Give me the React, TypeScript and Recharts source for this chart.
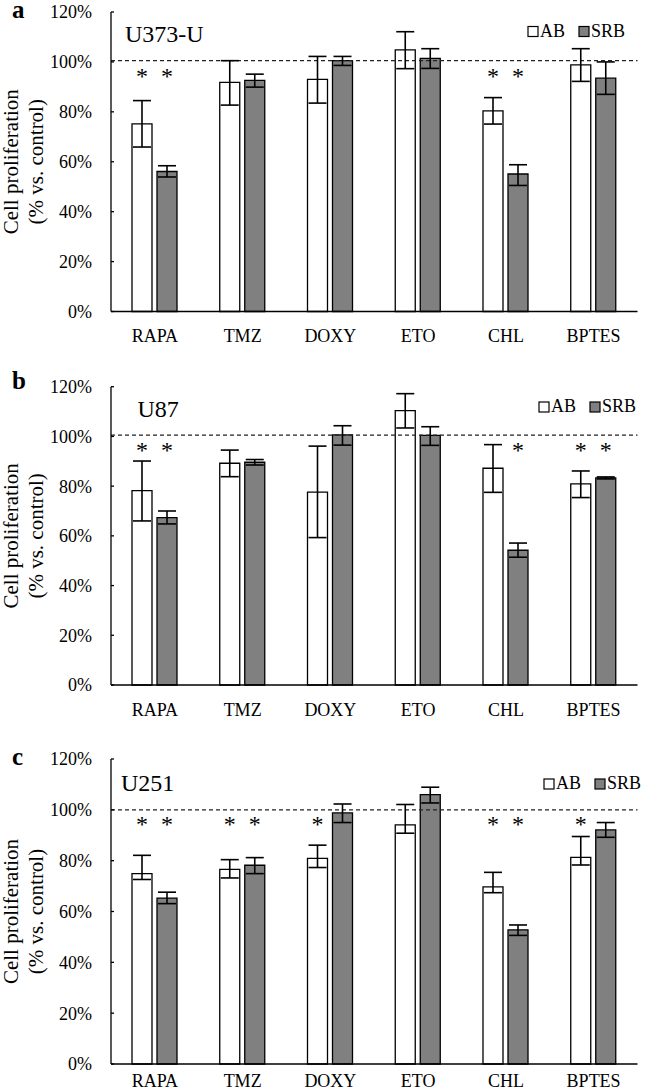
import React from 'react';
import { BarChart, Bar, XAxis, YAxis, ErrorBar, ReferenceLine, LabelList } from 'recharts';

const FONT = '"Liberation Serif", "Times New Roman", serif';

const drugs = ['RAPA', 'TMZ', 'DOXY', 'ETO', 'CHL', 'BPTES'];
const yTicks = [0, 20, 40, 60, 80, 100, 120];

// a: U373-U  (error = [minus, plus])
const u373AB = [75.2, 91.8, 93.0, 104.8, 80.4, 98.8];
const u373ABErr = [[9.3, 9.3], [9.1, 8.7], [9.5, 9.2], [7.5, 7.3], [5.3, 5.3], [6.6, 6.5]];
const u373SRB = [56.1, 92.6, 100.5, 101.4, 55.1, 93.5];
const u373SRBErr = [[2.2, 2.3], [2.7, 2.5], [1.9, 1.7], [4.0, 3.9], [4.6, 3.7], [6.5, 6.5]];
const u373StarAB = [true, false, false, false, true, false];
const u373StarSRB = [true, false, false, false, true, false];

// b: U87
const u87AB = [78.2, 89.2, 77.6, 110.4, 87.2, 80.9];
const u87ABErr = [[12.2, 11.9], [5.4, 5.3], [18.3, 18.5], [7.0, 6.8], [9.7, 9.5], [5.5, 5.2]];
const u87SRB = [67.3, 89.6, 100.6, 100.4, 54.2, 83.3];
const u87SRBErr = [[2.5, 2.7], [1.1, 1.1], [4.1, 3.7], [4.0, 3.5], [2.8, 2.9], [0.4, 0.4]];
const u87StarAB = [true, false, false, false, false, true];
const u87StarSRB = [true, false, false, false, true, true];

// c: U251
const u251AB = [74.9, 76.6, 80.9, 94.1, 69.7, 81.3];
const u251ABErr = [[2.3, 7.2], [3.4, 3.8], [3.6, 5.2], [3.3, 8.0], [2.3, 5.7], [3.0, 8.2]];
const u251SRB = [65.3, 78.2, 98.8, 106.0, 52.8, 92.1];
const u251SRBErr = [[2.2, 2.3], [3.3, 3.0], [3.8, 3.5], [3.3, 2.9], [2.2, 1.9], [2.9, 2.9]];
const u251StarAB = [true, true, true, false, true, true];
const u251StarSRB = [true, true, false, false, true, false];

const STAR_LEVEL = 96.5;

const buildRows = (ab: number[], abErr: number[][], srb: number[], srbErr: number[][]) =>
  drugs.map((d, i) => ({ drug: d, ab: ab[i], abErr: abErr[i], srb: srb[i], srbErr: srbErr[i] }));

const starRenderer = (flags: boolean[]) => (p: any) => {
  const { x, y, width, height, value, index } = p;
  if (!flags[index] || !value) return null;
  const base = Number(y) + Number(height);
  const cy = base - (STAR_LEVEL / Number(value)) * Number(height);
  return (
    <text key={`s${index}`} x={Number(x) + Number(width) / 2} y={cy + 13} textAnchor="middle" fontSize={24} fontFamily={FONT} fill="#000">
      *
    </text>
  );
};

const YLabel = (props: any) => {
  const vb = props.viewBox || {};
  const cy = vb.y + vb.height / 2;
  return (
    <g fontFamily={FONT} fontSize={21} fill="#000">
      <text x={18} y={cy} transform={`rotate(-90, 18, ${cy})`} textAnchor="middle">Cell proliferation</text>
      <text x={43} y={cy} transform={`rotate(-90, 43, ${cy})`} textAnchor="middle">(% vs. control)</text>
    </g>
  );
};

interface PanelProps {
  top: number;
  height: number;
  plotTop: number;
  plotBottom: number;
  labelGap: number;
  letter: string;
  letterY: number;
  name: string;
  nameX: number;
  nameY: number;
  legendX: number;
  legendY: number;
  refY: number;
  rows: any[];
  starAB: boolean[];
  starSRB: boolean[];
}

const Panel = (p: PanelProps) => (
  <div style={{ position: 'absolute', left: 0, top: p.top, width: 654, height: p.height }}>
    <BarChart
      width={654}
      height={p.height}
      data={p.rows}
      margin={{ top: p.plotTop, right: 16.5, left: 0, bottom: 0 }}
      barGap={5}
    >
      <XAxis
        dataKey="drug"
        height={p.height - p.plotBottom}
        tickLine={false}
        tickSize={6}
        tickMargin={p.labelGap}
        axisLine={{ stroke: '#000', strokeWidth: 1.3 }}
        tick={{ fontSize: 18, fontFamily: FONT, fill: '#000' }}
        interval={0}
      />
      <YAxis
        width={111}
        domain={[0, 120]}
        ticks={yTicks}
        interval={0}
        tickSize={-3}
        tickMargin={22}
        tickFormatter={(v: number) => `${v}%`}
        axisLine={{ stroke: '#000', strokeWidth: 1.3 }}
        tickLine={{ stroke: '#000', strokeWidth: 1.3 }}
        tick={{ fontSize: 18, fontFamily: FONT, fill: '#000' }}
        label={<YLabel />}
      />
      <ReferenceLine y={p.refY} stroke="#222" strokeWidth={1.2} strokeDasharray="4 3" ifOverflow="extendDomain" />
      <Bar dataKey="ab" fill="#ffffff" stroke="#000" strokeWidth={1.3} barSize={20} isAnimationActive={false}>
        <ErrorBar dataKey="abErr" width={9} stroke="#000" strokeWidth={1.6} direction="y" />
        <LabelList dataKey="ab" content={starRenderer(p.starAB)} />
      </Bar>
      <Bar dataKey="srb" fill="#808080" stroke="#000" strokeWidth={1.3} barSize={20} isAnimationActive={false}>
        <ErrorBar dataKey="srbErr" width={9} stroke="#000" strokeWidth={1.6} direction="y" />
        <LabelList dataKey="srb" content={starRenderer(p.starSRB)} />
      </Bar>
    </BarChart>
    <svg width={654} height={p.height} style={{ position: 'absolute', left: 0, top: 0, pointerEvents: 'none' }}>
      <text x={12} y={p.letterY} fontFamily={FONT} fontWeight="bold" fontSize={25} fill="#000">{p.letter}</text>
      <text x={p.nameX} y={p.nameY} fontFamily={FONT} fontSize={24} fill="#000">{p.name}</text>
      <g fontFamily={FONT} fontSize={18} fill="#000">
        <rect x={p.legendX} y={p.legendY - 10} width={10} height={10} fill="#fff" stroke="#000" strokeWidth={1.2} />
        <text x={p.legendX + 12} y={p.legendY}>AB</text>
        <rect x={p.legendX + 51} y={p.legendY - 10} width={10} height={10} fill="#808080" stroke="#000" strokeWidth={1.2} />
        <text x={p.legendX + 63} y={p.legendY}>SRB</text>
      </g>
    </svg>
  </div>
);

export default function App() {
  return (
    <div style={{ position: 'absolute', left: 0, top: 0, width: 654, height: 1091, background: '#fff', overflow: 'hidden' }}>
      <Panel
        top={0} height={360} plotTop={12} plotBottom={311.5} labelGap={12}
        letter="a" letterY={18} name="U373-U" nameX={125} nameY={42}
        legendX={528} legendY={36.5} refY={100.5}
        rows={buildRows(u373AB, u373ABErr, u373SRB, u373SRBErr)}
        starAB={u373StarAB} starSRB={u373StarSRB}
      />
      <Panel
        top={360} height={360} plotTop={26.7} plotBottom={325} labelGap={12}
        letter="b" letterY={29} name="U87" nameX={137.5} nameY={56.7}
        legendX={539} legendY={52} refY={100.5}
        rows={buildRows(u87AB, u87ABErr, u87SRB, u87SRBErr)}
        starAB={u87StarAB} starSRB={u87StarSRB}
      />
      <Panel
        top={720} height={371} plotTop={39} plotBottom={344} labelGap={4}
        letter="c" letterY={45} name="U251" nameX={121} nameY={71}
        legendX={544} legendY={69} refY={100}
        rows={buildRows(u251AB, u251ABErr, u251SRB, u251SRBErr)}
        starAB={u251StarAB} starSRB={u251StarSRB}
      />
    </div>
  );
}
